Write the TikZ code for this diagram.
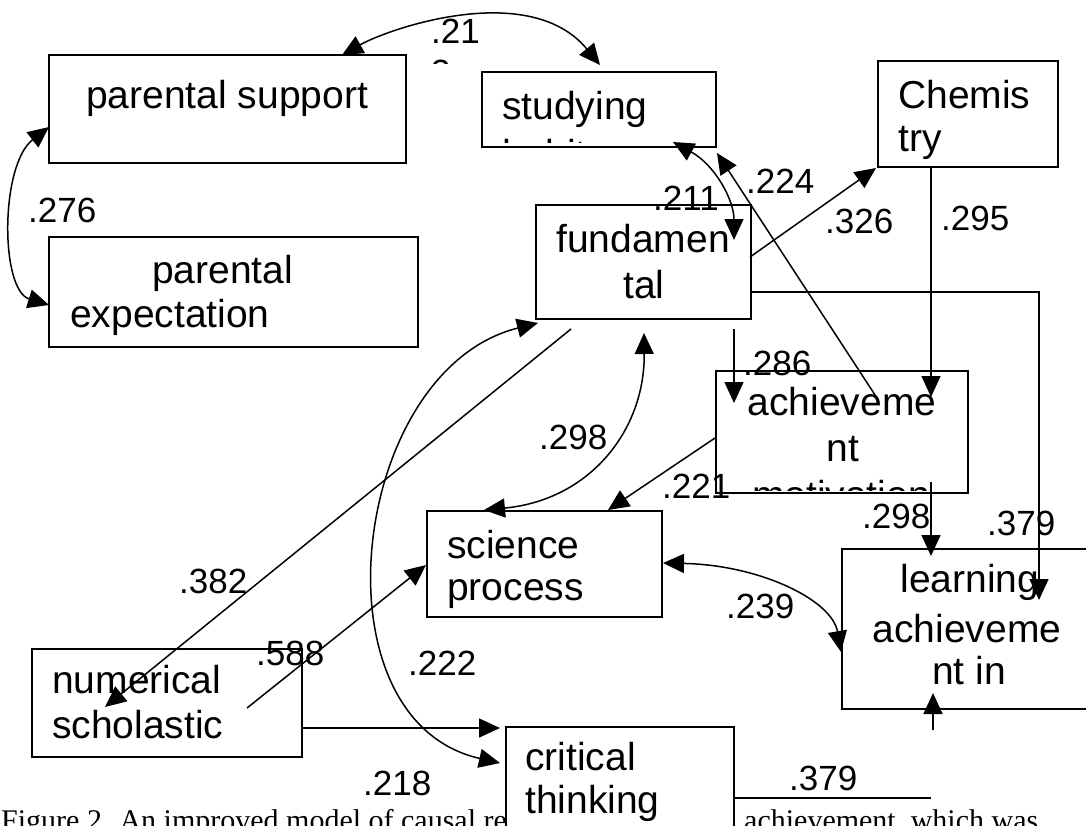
\documentclass[tikz,border=0pt]{standalone}
\usepackage{fontspec}
\setmainfont{Liberation Sans}
\newfontfamily\capfont{Liberation Serif}
\usetikzlibrary{arrows.meta}
\begin{document}
\begin{tikzpicture}[x=1pt,y=-1pt,
  box/.style={draw, line width=2pt, fill=white, anchor=north west, inner sep=0pt},
  lbl/.style={anchor=base west, inner sep=0pt, font=\fontsize{39}{45}\selectfont},
  lblc/.style={anchor=base, inner sep=0pt, font=\fontsize{39}{45}\selectfont},
  num/.style={anchor=base west, inner sep=0pt, font=\fontsize{35}{40}\selectfont},
  con/.style={line width=1.5pt},
  arr/.style={con, -{Triangle[length=21pt,width=19pt]}},
  darr/.style={con, {Triangle[length=21pt,width=19pt]}-{Triangle[length=21pt,width=19pt]}},
  captext/.style={anchor=base west, inner sep=0pt, font=\capfont\fontsize{30}{36}\selectfont}
]
\useasboundingbox (0,0) rectangle (1086,825);
\clip (0,0) rectangle (1086,825);

% caption
\node[captext] (cap1) at (1,830) {Figure 2. An improved model of causal re};
\node[captext] (cap2) at (744,830) {achievement, which was};

% boxes
\node[box, minimum width=357pt, minimum height=108pt] (ps) at (48,54) {};
\node[box, minimum width=369pt, minimum height=110pt] (pe) at (48,236) {};
\node[box, minimum width=234pt, minimum height=75pt] (st) at (481,71) {};
\node[box, minimum width=180pt, minimum height=106pt] (ch) at (877,60) {};
\node[box, minimum width=215pt, minimum height=114pt] (fu) at (535,204) {};
\node[box, minimum width=252pt, minimum height=122pt] (am) at (715,370) {};
\node[box, minimum width=235pt, minimum height=106pt] (sp) at (426,510) {};
\node[box, minimum width=255pt, minimum height=160pt] (la) at (841,548) {};
\node[box, minimum width=270pt, minimum height=108pt] (ns) at (31,648) {};
\node[box, minimum width=228pt, minimum height=140pt] (ct) at (505,726) {};

% box texts
\node[lbl] (ps1) at (86,108) {parental support};
\node[lbl] (pe1) at (152,283) {parental};
\node[lbl] (pe2) at (70,327) {expectation};
\node[lbl] (st1) at (502,119) {studying};
\begin{scope}
  \clip (483,73) rectangle (713,142);
  \node[lbl] (st2) at (502,167) {habits};
\end{scope}
\node[lbl] (ch1) at (898,108) {Chemis};
\node[lbl] (ch2) at (898,151) {try};
\node[lblc] (fu1) at (643,252) {fundamen};
\node[lblc] (fu2) at (644,298) {tal};
\node[lblc] (am1) at (842,415) {achieveme};
\node[lblc] (am2) at (843,461) {nt};
\begin{scope}
  \clip (717,372) rectangle (965,490);
  \node[lblc] (am3) at (841,508) {motivation};
\end{scope}
\node[lbl] (sp1) at (447,558) {science};
\node[lbl] (sp2) at (447,600) {process};
\node[lblc] (la1) at (970,592) {learning};
\node[lblc] (la2) at (967,642) {achieveme};
\node[lblc] (la3) at (969,684) {nt in};
\node[lbl] (ns1) at (52,693) {numerical};
\node[lbl] (ns2) at (52,738) {scholastic};
\node[lbl] (ct1) at (525,770) {critical};
\node[lbl] (ct2) at (525,813) {thinking};

% connector end points
\coordinate (c21a) at (342,55);
\coordinate (c21b) at (600,65);
\coordinate (c276a) at (49,127);
\coordinate (c276b) at (49,305);
\coordinate (c211a) at (673,142);
\coordinate (c211b) at (734,240);
\coordinate (c224a) at (877,398);
\coordinate (c224b) at (717,153);
\coordinate (c326a) at (750,257);
\coordinate (c326b) at (876,168);
\coordinate (c295a) at (931,166);
\coordinate (c295b) at (931,397);
\coordinate (c379a) at (750,292);
\coordinate (c379b) at (1039,600);
\coordinate (c286a) at (734,329);
\coordinate (c286b) at (734,403);
\coordinate (c298a) at (644,333);
\coordinate (c298b) at (484,510);
\coordinate (c221a) at (715,438);
\coordinate (c221b) at (608,510);
\coordinate (c298c) at (931,482);
\coordinate (c298d) at (931,556);
\coordinate (c239a) at (663,563);
\coordinate (c239b) at (841,652);
\coordinate (cbota) at (933,730);
\coordinate (cbotb) at (933,693);
\coordinate (c382a) at (571,329);
\coordinate (c382b) at (105,707);
\coordinate (c588a) at (247,708);
\coordinate (c588b) at (426,565);
\coordinate (cnca) at (301,728);
\coordinate (cncb) at (500,728);
\coordinate (c222a) at (538,323);
\coordinate (c222b) at (500,763);
\coordinate (c379c) at (733,798);
\coordinate (c379d) at (931,798);

% connectors
\draw[darr] (c21a) .. controls (390,28) and (530,-20) .. (c21b);
\draw[darr] (c276a) .. controls (0,165) and (0,290) .. (c276b);
\draw[darr] (c211a) .. controls (715,165) and (734,200) .. (c211b);
\draw[arr] (c224a) -- (c224b);
\draw[arr] (c326a) -- (c326b);
\draw[arr] (c295a) -- (c295b);
\draw[arr] (c379a) -| (c379b);
\draw[arr] (c286a) -- (c286b);
\draw[darr] (c298a) .. controls (645,430) and (590,500) .. (c298b);
\draw[arr] (c221a) -- (c221b);
\draw[arr] (c298c) -- (c298d);
\draw[darr] (c239a) .. controls (760,565) and (832,600) .. (c239b);
\draw[arr] (cbota) -- (cbotb);
\draw[arr] (c382a) -- (c382b);
\draw[arr] (c588a) -- (c588b);
\draw[arr] (cnca) -- (cncb);
\draw[darr] (c222a) .. controls (350,370) and (310,720) .. (c222b);
\draw[con] (c379c) -- (c379d);

% coefficient labels
\begin{scope}
  \clip (420,0) rectangle (500,63);
  \node[num] (l21) at (431,43) {.21};
  \node[num] (l21b) at (431,84) {3};
\end{scope}
\node[num] (l276) at (28,222) {.276};
\node[num] (l211) at (653,210) {.211};
\node[num] (l224) at (746,193) {.224};
\node[num] (l326) at (825,233) {.326};
\node[num] (l295) at (941,230) {.295};
\node[num] (l286) at (743,375) {.286};
\node[num] (l298a) at (539,449) {.298};
\node[num] (l221) at (662,498) {.221};
\node[num] (l298b) at (862,528) {.298};
\node[num] (l379a) at (987,535) {.379};
\node[num] (l239) at (726,618) {.239};
\node[num] (l382) at (179,593) {.382};
\node[num] (l588) at (256,665) {.588};
\node[num] (l222) at (408,675) {.222};
\node[num] (l218) at (363,795) {.218};
\node[num] (l379b) at (789,790) {.379};
\end{tikzpicture}
\end{document}
